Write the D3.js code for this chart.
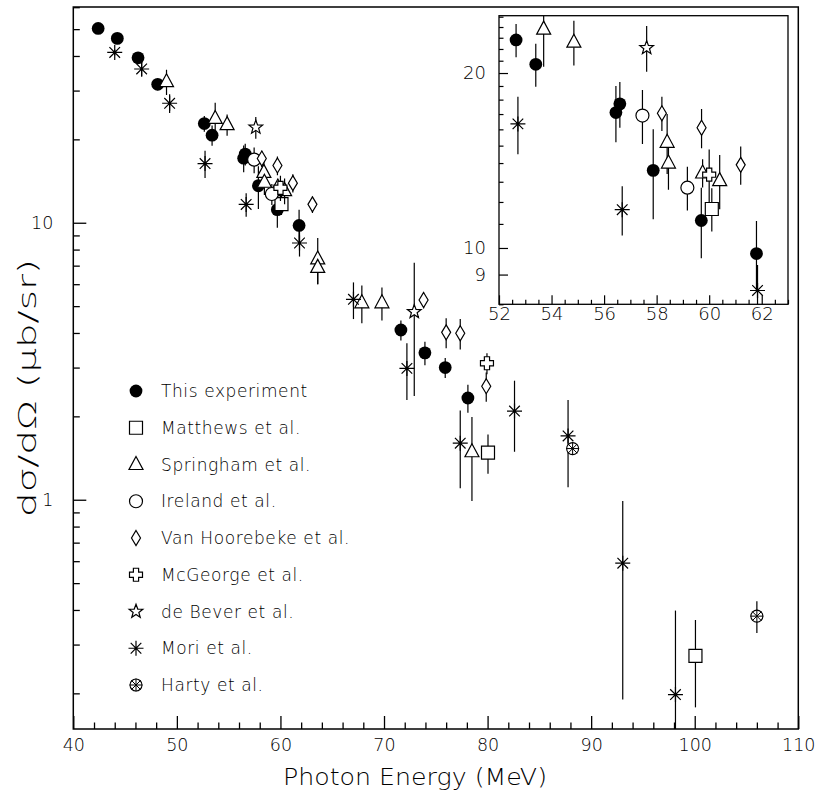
<!DOCTYPE html>
<html>
<head>
<meta charset="utf-8">
<script src="https://cdn.jsdelivr.net/npm/d3@7"></script>
<style>
  body { margin: 0; background: #fff; }
  text { font-family: "DejaVu Sans", sans-serif; font-weight: 200; fill: #000; }
</style>
</head>
<body>
<svg id="chart" width="815" height="800"></svg>
<script>
/* DATA: [photon energy (MeV), dsigma/dOmega (ub/sr), error] */
const thisExperiment = [
  [42.4, 50.3, 1.5], [44.25, 46.3, 1.5], [46.25, 39.4, 1.5], [48.15, 31.6, 1.5],
  [52.65, 22.8, 1.5], [53.4, 20.7, 1.75], [56.45, 17.1, 1.9], [56.6, 17.7, 1.6],
  [57.87, 13.6, 2.4], [59.7, 11.15, 1.55], [61.8, 9.78, 1.35],
  [71.63, 4.10, 0.34], [73.95, 3.39, 0.33], [75.91, 3.00, 0.25], [78.1, 2.33, 0.27]
];
const matthews = [[60.1, 11.67, 1.0], [80.04, 1.48, 0.24], [100.07, 0.273, 0.095]];
const springham = [
  [49.0, 32.3, 3.4], [53.7, 23.8, 3.3], [54.85, 22.6, 2.0], [58.4, 15.2, 1.8],
  [58.45, 14.0, 1.4], [59.75, 13.46, 0.75], [60.4, 13.06, 1.4], [63.6, 7.4, 1.4],
  [63.6, 6.9, 0.9], [67.86, 5.14, 0.8], [69.8, 5.14, 0.7], [78.49, 1.49, 0.5]
];
const ireland = [[57.46, 16.9, 1.8], [59.17, 12.7, 1.1]];
const vanHoorebeke = [
  [58.2, 17.05, 1.15], [59.71, 16.1, 1.25], [61.2, 13.9, 1.05], [63.09, 11.65, 0.8],
  [73.82, 5.26, 0.35], [76.0, 4.02, 0.5], [77.36, 3.99, 0.5], [79.87, 2.57, 0.31]
];
const mcGeorge = [[60.0, 13.37, 1.4], [79.94, 3.11, 0.27]];
const deBever = [[57.62, 22.1, 2.0], [72.92, 4.77, 2.4]];
const mori = [
  [44.0, 41.2, 1.0], [46.6, 35.9, 2.2], [49.3, 27.0, 2.1], [52.72, 16.35, 1.85],
  [56.69, 11.64, 1.13], [61.84, 8.45, 0.9], [67.05, 5.29, 0.8], [72.21, 2.98, 0.69],
  [77.36, 1.60, 0.5], [82.6, 2.09, 0.6], [87.77, 1.70, 0.59], [93.05, 0.59, 0.40],
  [98.14, 0.198, 0.2]
];
const harty = [[88.21, 1.53, 0.06], [106.0, 0.38, 0.05]];

const seriesLabels = ["This experiment", "Matthews et al.", "Springham et al.", "Ireland et al.",
  "Van Hoorebeke et al.", "McGeorge et al.", "de Bever et al.", "Mori et al.", "Harty et al."];
const seriesMarkers = ["dot", "square", "triangle", "circle", "diamond", "cross", "star", "asterisk", "harty"];
const seriesData = [thisExperiment, matthews, springham, ireland, vanHoorebeke, mcGeorge, deBever, mori, harty];

const mainXTicks = [40, 50, 60, 70, 80, 90, 100, 110];
const mainYLabels = [1, 10];
const insetXTicks = [52, 54, 56, 58, 60, 62];
const insetYLabels = [9, 10, 20];

/* LAYOUT */
const svg = d3.select("#chart");
const main = { left: 73.3, right: 798.3, top: 7, bottom: 729 };
const inset = { left: 499, right: 788, top: 15.7, bottom: 304.3 };

const x = d3.scaleLinear().domain([40, 110]).range([main.left, main.right]);
const y = d3.scaleLog().domain([0.1487, 60.1]).range([main.bottom, main.top]);
const xi = d3.scaleLinear().domain([52, 63]).range([inset.left, inset.right]);
const yi = d3.scaleLog().domain([8.0, 25.1]).range([inset.bottom, inset.top]);

// marker shapes, centred on 0,0
function markerPath(kind) {
  const p = d3.path();
  if (kind === "square") { p.rect(-6.5, -6.5, 13, 13); }
  else if (kind === "triangle") { p.moveTo(0, -8); p.lineTo(7, 5); p.lineTo(-7, 5); p.closePath(); }
  else if (kind === "diamond") { p.moveTo(0, -7.5); p.lineTo(4.5, 0); p.lineTo(0, 7.5); p.lineTo(-4.5, 0); p.closePath(); }
  else if (kind === "cross") {
    const a = 2.6, b = 6.5;
    [[-a,-b],[a,-b],[a,-a],[b,-a],[b,a],[a,a],[a,b],[-a,b],[-a,a],[-b,a],[-b,-a],[-a,-a]]
      .forEach((pt, i) => i ? p.lineTo(pt[0], pt[1]) : p.moveTo(pt[0], pt[1]));
    p.closePath();
  }
  else if (kind === "star") {
    for (let i = 0; i < 10; i++) {
      const r = i % 2 ? 3.0 : 7.2, ang = -Math.PI / 2 + i * Math.PI / 5;
      i ? p.lineTo(r * Math.cos(ang), r * Math.sin(ang)) : p.moveTo(r * Math.cos(ang), r * Math.sin(ang));
    }
    p.closePath();
  }
  return p.toString();
}

function asteriskPath(r) {
  const p = d3.path(), d = r * Math.SQRT1_2;
  p.moveTo(-r, 0); p.lineTo(r, 0);
  p.moveTo(0, -r); p.lineTo(0, r);
  p.moveTo(-d, -d); p.lineTo(d, d);
  p.moveTo(-d, d); p.lineTo(d, -d);
  return p.toString();
}

function drawMarker(g, kind, cx, cy) {
  const m = g.append("g").attr("transform", `translate(${cx},${cy})`);
  if (kind === "dot") {
    m.append("circle").attr("r", 6.4).attr("fill", "#000");
  } else if (kind === "circle") {
    m.append("circle").attr("r", 6.5).attr("fill", "#fff").attr("stroke", "#000").attr("stroke-width", 1.2);
  } else if (kind === "asterisk") {
    m.append("path").attr("d", asteriskPath(7.5)).attr("stroke", "#000").attr("stroke-width", 1.2);
  } else if (kind === "harty") {
    m.append("circle").attr("r", 6).attr("fill", "#fff").attr("stroke", "#000").attr("stroke-width", 1.1);
    m.append("path").attr("d", asteriskPath(6.5)).attr("stroke", "#000").attr("stroke-width", 1);
  } else {
    m.append("path").attr("d", markerPath(kind)).attr("fill", "#fff")
      .attr("stroke", "#000").attr("stroke-width", 1.2).attr("stroke-linejoin", "miter");
  }
}

// points and error bars of all series inside one frame (markers outside the x range are skipped)
function drawPoints(g, xs, ys) {
  const yMin = ys.domain()[0], [x0, x1] = xs.domain();
  seriesData.forEach((series, s) => {
    const pts = series.filter(d => d[0] >= x0 && d[0] <= x1);
    pts.forEach(d => {
      g.append("line")
        .attr("x1", xs(d[0])).attr("x2", xs(d[0]))
        .attr("y1", ys(d[1] + d[2])).attr("y2", ys(Math.max(d[1] - d[2], yMin * 0.5)))
        .attr("stroke", "#000").attr("stroke-width", 1.2);
    });
    pts.forEach(d => drawMarker(g, seriesMarkers[s], xs(d[0]), ys(d[1])));
  });
}

/* MAIN PANEL */
svg.append("clipPath").attr("id", "clipMain").append("rect")
  .attr("x", main.left).attr("y", main.top)
  .attr("width", main.right - main.left).attr("height", main.bottom - main.top);

const mainPts = svg.append("g").attr("clip-path", "url(#clipMain)");
drawPoints(mainPts, x, y);

// frame
svg.append("rect")
  .attr("x", main.left).attr("y", main.top)
  .attr("width", main.right - main.left).attr("height", main.bottom - main.top)
  .attr("fill", "none").attr("stroke", "#000").attr("stroke-width", 1.5);

// x axis: major every 10, minor every 2, ticks pointing in
const xMinor = d3.range(42, 110, 2).filter(v => v % 10 !== 0);
svg.append("g").attr("transform", `translate(0,${main.bottom})`)
  .call(d3.axisBottom(x).tickValues(xMinor).tickSize(-6.5).tickFormat(""))
  .call(g => g.select(".domain").remove());
svg.append("g").attr("transform", `translate(0,${main.bottom})`)
  .call(d3.axisBottom(x).tickValues(mainXTicks).tickSize(-13).tickPadding(10))
  .call(g => g.select(".domain").remove())
  .call(g => g.selectAll("text").style("font-size", "17.5px"));

// y axis (log): labelled decades, minor 2..9
const yMinor = [0.2, 0.3, 0.4, 0.5, 0.6, 0.7, 0.8, 0.9, 2, 3, 4, 5, 6, 7, 8, 9, 20, 30, 40, 50, 60];
svg.append("g").attr("transform", `translate(${main.left},0)`)
  .call(d3.axisLeft(y).tickValues(yMinor).tickSize(-6.5).tickFormat(""))
  .call(g => g.select(".domain").remove());
svg.append("g").attr("transform", `translate(${main.left},0)`)
  .call(d3.axisLeft(y).tickValues(mainYLabels).tickSize(-13).tickPadding(20).tickFormat(d3.format("d")))
  .call(g => g.select(".domain").remove())
  .call(g => g.selectAll("text").style("font-size", "17.5px"));

svg.selectAll(".tick line").attr("stroke", "#000").attr("stroke-width", 1.3);

// axis titles
svg.append("text")
  .attr("x", 415).attr("y", 785)
  .attr("text-anchor", "middle").style("font-size", "23px")
  .attr("textLength", 264).attr("lengthAdjust", "spacingAndGlyphs")
  .text("Photon Energy (MeV)");
svg.append("text")
  .attr("transform", "translate(36,388) rotate(-90)")
  .attr("text-anchor", "middle").style("font-size", "24px")
  .attr("textLength", 258).attr("lengthAdjust", "spacingAndGlyphs")
  .text("dσ/dΩ (μb/sr)");

// legend
const legend = svg.append("g");
seriesLabels.forEach((label, i) => {
  const ly = 391 + i * 36.75;
  drawMarker(legend, seriesMarkers[i], 136, ly);
  legend.append("text").attr("x", 161).attr("y", ly).attr("dy", "0.36em")
    .style("font-size", "17px").style("letter-spacing", "0.6px").text(label);
});

/* INSET PANEL */
svg.append("rect")
  .attr("x", inset.left).attr("y", inset.top)
  .attr("width", inset.right - inset.left).attr("height", inset.bottom - inset.top)
  .attr("fill", "#fff");
svg.append("clipPath").attr("id", "clipInset").append("rect")
  .attr("x", inset.left).attr("y", inset.top)
  .attr("width", inset.right - inset.left).attr("height", inset.bottom - inset.top);
const insetPts = svg.append("g").attr("clip-path", "url(#clipInset)");
drawPoints(insetPts, xi, yi);

svg.append("rect")
  .attr("x", inset.left).attr("y", inset.top)
  .attr("width", inset.right - inset.left).attr("height", inset.bottom - inset.top)
  .attr("fill", "none").attr("stroke", "#000").attr("stroke-width", 1.3);

const xiMinor = d3.range(52.5, 63.01, 0.5).filter(v => v % 2 !== 0);
const insetAxes = svg.append("g").attr("class", "inset-axes");
insetAxes.append("g").attr("transform", `translate(0,${inset.bottom})`)
  .call(d3.axisBottom(xi).tickValues(xiMinor).tickSize(-4.5).tickFormat(""))
  .call(g => g.select(".domain").remove());
insetAxes.append("g").attr("transform", `translate(0,${inset.bottom})`)
  .call(d3.axisBottom(xi).tickValues(insetXTicks).tickSize(-9).tickPadding(3))
  .call(g => g.select(".domain").remove())
  .call(g => g.selectAll("text").style("font-size", "18px"));

const yiMinor = [8, 11, 12, 13, 14, 15, 16, 17, 18, 19, 21, 22, 23, 24, 25];
insetAxes.append("g").attr("transform", `translate(${inset.left},0)`)
  .call(d3.axisLeft(yi).tickValues(yiMinor).tickSize(-4.5).tickFormat(""))
  .call(g => g.select(".domain").remove());
insetAxes.append("g").attr("transform", `translate(${inset.left},0)`)
  .call(d3.axisLeft(yi).tickValues(insetYLabels).tickSize(-9).tickPadding(13).tickFormat(d3.format("d")))
  .call(g => g.select(".domain").remove())
  .call(g => g.selectAll("text").style("font-size", "18px"));
insetAxes.selectAll(".tick line").attr("stroke", "#000").attr("stroke-width", 1.2);
</script>
</body>
</html>
